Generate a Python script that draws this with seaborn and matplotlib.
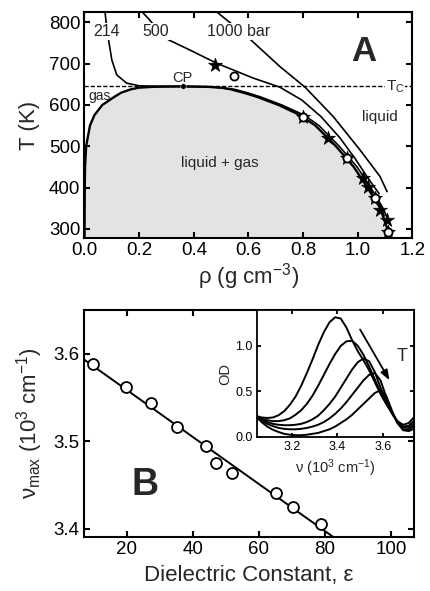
import numpy as np
import pandas as pd
import matplotlib
matplotlib.use("Agg")
import matplotlib.pyplot as plt
import seaborn as sns

# ---------------- data: panel A (phase diagram) ----------------
T_coex = [277, 300, 350, 400, 450, 500, 550, 575, 600, 620, 630, 638, 642, 644, 645]
rho_gas = [0.0, 0.0003, 0.0006, 0.001, 0.002, 0.006, 0.02, 0.036, 0.065, 0.11, 0.135, 0.17, 0.20, 0.25, 0.359]
rho_liq = [1.118, 1.108, 1.082, 1.035, 0.985, 0.92, 0.845, 0.79, 0.71, 0.63, 0.58, 0.535, 0.50, 0.45, 0.359]
rho_c = 0.359
T_c = 645

rho_214 = [0.075, 0.081, 0.087, 0.10, 0.118, 0.154, 0.20, 0.25, 0.36, 0.46, 0.548, 0.594, 0.642, 0.722, 0.805, 0.858, 0.932, 0.997, 1.047, 1.092, 1.112]
T_214 = [826, 790, 762, 709, 673, 653, 646.5, 645.5, 645, 644, 638, 630, 620, 600, 575, 550, 500, 450, 400, 350, 320]

rho_500 = [0.21, 0.233, 0.265, 0.307, 0.386, 0.484, 0.618, 0.715, 0.795, 0.865, 0.935, 0.99, 1.04, 1.078]
T_500 = [826, 810, 785, 758, 733, 701, 665, 643, 612, 572, 520, 470, 420, 385]

rho_1000 = [0.483, 0.52, 0.58, 0.636, 0.715, 0.807, 0.91, 1.008, 1.081, 1.107]
T_1000 = [826, 806, 775, 741, 693, 643, 572, 491, 427, 390]

star_rho = [0.477, 0.80, 0.892, 0.959, 1.02, 1.038, 1.063, 1.081, 1.106, 1.112]
star_T = [697, 572, 521, 471, 423, 402, 374, 346, 322, 293]
circ_rho = [0.548, 0.80, 0.959, 1.063, 1.112]
circ_T = [670, 572, 471, 374, 293]

# ---------------- data: panel B ----------------
eps = [9.7, 19.8, 27.2, 35.3, 44.0, 47.0, 51.9, 65.2, 70.4, 78.9]
nu_max = [3.588, 3.562, 3.544, 3.516, 3.494, 3.475, 3.464, 3.441, 3.425, 3.405]

# ---------------- data: inset spectra ----------------
nu = [3.040, 3.065, 3.090, 3.115, 3.140, 3.165, 3.190, 3.215, 3.240, 3.265,
      3.290, 3.315, 3.340, 3.365, 3.390, 3.415, 3.440, 3.465, 3.490, 3.515,
      3.540, 3.565, 3.590, 3.615, 3.640, 3.665, 3.690, 3.715, 3.740]
od_1 = [0.23, 0.21, 0.205, 0.21, 0.235, 0.28, 0.35, 0.44, 0.56, 0.70, 0.85, 1.01, 1.15, 1.26, 1.315,
        1.30, 1.20, 1.06, 0.94, 0.84, 0.73, 0.60, 0.47, 0.36, 0.26, 0.17, 0.13, 0.15, 0.22]
od_2 = [0.22, 0.195, 0.18, 0.17, 0.17, 0.18, 0.20, 0.24, 0.29, 0.36, 0.45, 0.56, 0.68, 0.80, 0.91,
        1.00, 1.05, 1.055, 1.00, 0.90, 0.77, 0.63, 0.49, 0.37, 0.26, 0.16, 0.11, 0.12, 0.18]
od_3 = [0.22, 0.185, 0.16, 0.14, 0.13, 0.125, 0.125, 0.13, 0.14, 0.16, 0.19, 0.23, 0.29, 0.36, 0.44,
        0.54, 0.64, 0.74, 0.82, 0.86, 0.83, 0.71, 0.54, 0.39, 0.26, 0.16, 0.10, 0.10, 0.15]
od_4 = [0.22, 0.175, 0.14, 0.115, 0.095, 0.085, 0.08, 0.08, 0.085, 0.095, 0.11, 0.13, 0.16, 0.20, 0.25,
        0.31, 0.38, 0.46, 0.54, 0.62, 0.68, 0.70, 0.62, 0.44, 0.27, 0.15, 0.08, 0.08, 0.12]
od_5 = [0.22, 0.16, 0.11, 0.075, 0.05, 0.03, 0.02, 0.015, 0.015, 0.02, 0.03, 0.04, 0.06, 0.08, 0.11,
        0.15, 0.19, 0.24, 0.30, 0.36, 0.42, 0.48, 0.51, 0.45, 0.29, 0.15, 0.07, 0.06, 0.09]
spectra = [od_1, od_2, od_3, od_4, od_5]

# ---------------- style ----------------
sns.set_style("ticks")
plt.rcParams["font.family"] = ["Liberation Sans", "DejaVu Sans"]
plt.rcParams["mathtext.fontset"] = "custom"
plt.rcParams["mathtext.rm"] = "Liberation Sans"
plt.rcParams["mathtext.it"] = "Liberation Sans:italic"
plt.rcParams["mathtext.bf"] = "Liberation Sans:bold"


def style(ax, lw=1.5, size=13.5, length=4):
    for s in ax.spines.values():
        s.set_visible(True)
        s.set_linewidth(lw)
        s.set_color("black")
    ax.tick_params(direction="in", top=True, right=True, width=lw, length=length,
                   labelsize=size, colors="black", pad=3)


fig = plt.figure(figsize=(4.30, 5.91), dpi=100)

# ================= Panel A =================
axA = fig.add_axes([0.1965, 0.5968, 0.7628, 0.3834])
axA.fill_betweenx(T_coex, rho_gas, rho_liq, color="#e3e3e3", lw=0, zorder=0)
axA.axhline(T_c, color="black", lw=1.0, ls=(0, (3, 1.5)), zorder=1)
sns.lineplot(x=rho_gas, y=T_coex, sort=False, estimator=None, color="black", lw=1.7, ax=axA, zorder=3)
sns.lineplot(x=rho_liq, y=T_coex, sort=False, estimator=None, color="black", lw=1.7, ax=axA, zorder=3)
for r, t in [(rho_214, T_214), (rho_500, T_500), (rho_1000, T_1000)]:
    sns.lineplot(x=r, y=t, sort=False, estimator=None, color="black", lw=1.2, ax=axA, zorder=2)
sns.scatterplot(x=star_rho, y=star_T, marker="*", s=110, color="black", edgecolor="black",
                linewidth=0.5, ax=axA, zorder=4)
sns.scatterplot(x=circ_rho, y=circ_T, marker="o", s=34, facecolor="white", edgecolor="black",
                linewidth=1.3, ax=axA, zorder=5)
sns.scatterplot(x=[rho_c], y=[T_c], marker="o", s=16, color="black", ax=axA, zorder=5)

axA.set_xlim(0, 1.2)
axA.set_ylim(277, 826)
axA.set_xticks([0.0, 0.2, 0.4, 0.6, 0.8, 1.0, 1.2])
axA.set_xticklabels(["0.0", "0.2", "0.4", "0.6", "0.8", "1.0", "1.2"])
axA.set_yticks([300, 400, 500, 600, 700, 800])
style(axA)
axA.set_xlabel(r"ρ (g cm$^{-3}$)", fontsize=16, labelpad=1)
axA.set_ylabel("T (K)", fontsize=16, labelpad=6)

wb = dict(facecolor="white", edgecolor="none", pad=0.5)
axA.text(0.081, 778, "214", fontsize=11.5, ha="center", va="center", bbox=wb, zorder=6)
axA.text(0.262, 778, "500", fontsize=11.5, ha="center", va="center", bbox=wb, zorder=6)
axA.text(0.563, 778, "1000 bar", fontsize=11.5, ha="center", va="center", bbox=wb, zorder=6)
axA.text(1.02, 729, "A", fontsize=25, fontweight="bold", ha="center", va="center", zorder=6)
axA.text(rho_c, 666, "CP", fontsize=10.5, ha="center", va="center", zorder=6)
axA.text(0.054, 622, "gas", fontsize=10, ha="center", va="center", zorder=6)
axA.text(1.136, T_c, r"T$_{\rm C}$", fontsize=11, ha="center", va="center", bbox=wb, zorder=6)
axA.text(1.081, 572, "liquid", fontsize=11, ha="center", va="center", zorder=6)
axA.text(0.496, 459, "liquid + gas", fontsize=11, ha="center", va="center", zorder=6)

# ================= Panel B =================
axB = fig.add_axes([0.1953, 0.0909, 0.7674, 0.3846])
axB.set_xlim(7, 107)
axB.set_ylim(3.39, 3.65)
sns.regplot(x=eps, y=nu_max, ax=axB, ci=None, truncate=False, marker="o",
            scatter_kws=dict(s=62, facecolors="white", edgecolors="black", linewidths=1.3,
                             alpha=1, zorder=3),
            line_kws=dict(color="black", lw=1.4, zorder=2))
axB.set_xlim(7, 107)
axB.set_ylim(3.39, 3.65)
axB.set_xticks([20, 40, 60, 80, 100])
axB.set_yticks([3.4, 3.5, 3.6])
axB.set_yticklabels(["3.4", "3.5", "3.6"])
style(axB)
axB.set_xlabel("Dielectric Constant, ε", fontsize=16, labelpad=5)
axB.set_ylabel(r"ν$_{\rm max}$ (10$^3$ cm$^{-1}$)", fontsize=16, labelpad=6)
axB.text(25.4, 3.45, "B", fontsize=27, fontweight="bold", ha="center", va="center")

# ================= Inset =================
axI = fig.add_axes([0.5977, 0.2601, 0.3651, 0.2154])
axI.set_facecolor("white")
for od in spectra:
    sns.lineplot(x=nu, y=od, sort=False, estimator=None, color="black", lw=1.4, ax=axI)
axI.set_xlim(3.045, 3.738)
axI.set_ylim(-0.008, 1.395)
axI.set_xticks([3.2, 3.4, 3.6])
axI.set_yticks([0.0, 0.5, 1.0])
axI.set_yticklabels(["0.0", "0.5", "1.0"])
style(axI, lw=1.3, size=9, length=3)
axI.set_xlabel(r"ν (10$^3$ cm$^{-1}$)", fontsize=10.5, labelpad=3)
axI.set_ylabel("OD", fontsize=10.5, labelpad=2)
axI.annotate("", xy=(3.63, 0.62), xytext=(3.50, 1.18),
             arrowprops=dict(arrowstyle="-|>,head_length=0.6,head_width=0.22", color="black",
                             lw=1.3, shrinkA=0, shrinkB=0))
axI.text(3.684, 0.88, "T", fontsize=13, ha="center", va="center")

fig.savefig("out.png", dpi=100)
